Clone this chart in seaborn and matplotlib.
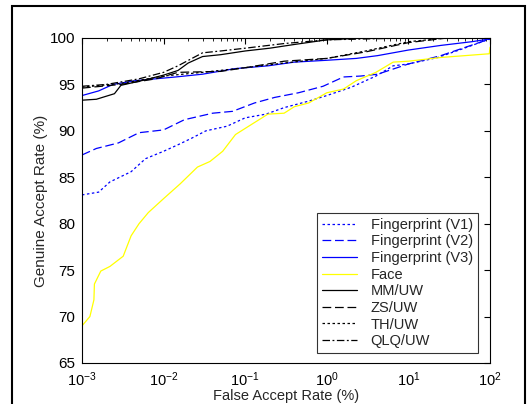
import numpy as np
import pandas as pd
import matplotlib
matplotlib.use("Agg")
import matplotlib.pyplot as plt
import seaborn as sns
from matplotlib.patches import Rectangle
from matplotlib.ticker import LogLocator, NullFormatter

# Data (FAR in %, GAR in %) ==========================================================
far_face = [1e-3, 1.25e-3, 1.4e-3, 1.42e-3, 1.7e-3, 2.2e-3, 3.2e-3, 4e-3, 5e-3, 6.5e-3,
            1e-2, 1.6e-2, 2.6e-2, 3.7e-2, 5.3e-2, 7.6e-2, 1.2e-1, 1.9e-1, 3e-1, 4e-1,
            6e-1, 1.0, 1.6, 2.3, 4.0, 6.5, 10.0, 25.0, 98.0, 100.0]
gar_face = [69.0, 70.0, 71.8, 73.5, 74.9, 75.4, 76.5, 78.7, 80.0, 81.2,
            82.7, 84.3, 86.1, 86.7, 87.8, 89.6, 90.7, 91.8, 91.9, 92.6,
            93.0, 94.1, 94.5, 95.4, 96.3, 97.4, 97.5, 97.9, 98.3, 99.0]

far_v1 = [1e-3, 1.6e-3, 2.2e-3, 4e-3, 6e-3, 1e-2, 1.5e-2, 2.2e-2, 3.3e-2, 6e-2,
          1e-1, 1.8e-1, 3e-1, 6e-1, 1.0, 2.0, 4.0, 6.5, 10.0, 23.0, 45.0, 100.0]
gar_v1 = [83.1, 83.4, 84.5, 85.6, 87.0, 87.8, 88.5, 89.2, 90.0, 90.5,
          91.4, 91.8, 92.5, 93.2, 93.8, 94.7, 95.9, 97.0, 97.2, 97.9, 98.8, 99.9]

far_v2 = [1e-3, 1.5e-3, 2.8e-3, 5e-3, 1e-2, 1.8e-2, 4e-2, 7e-2, 1.3e-1, 2.3e-1,
          4.5e-1, 0.9, 1.6, 2.6, 4.2, 10.0, 25.0, 100.0]
gar_v2 = [87.4, 88.1, 88.7, 89.8, 90.1, 91.2, 91.9, 92.1, 93.0, 93.6,
          94.1, 94.8, 95.8, 95.9, 96.1, 97.2, 98.1, 99.9]

far_v3 = [1e-3, 1.6e-3, 2.4e-3, 4.5e-3, 1.4e-2, 3e-2, 7.5e-2, 1.9e-1, 4e-1,
          1.0, 2.3, 4.2, 10.0, 25.0, 60.0, 100.0]
gar_v3 = [93.8, 94.3, 95.0, 95.4, 95.8, 96.1, 96.7, 97.0, 97.4,
          97.6, 97.8, 98.1, 98.7, 99.2, 99.6, 99.9]

far_mm = [1e-3, 1.5e-3, 2.5e-3, 3e-3, 6e-3, 1e-2, 1.5e-2, 2e-2, 3e-2, 5e-2,
          1e-1, 2e-1, 4e-1, 1.0, 3.0, 100.0]
gar_mm = [93.3, 93.4, 94.0, 94.9, 95.5, 96.0, 96.5, 97.3, 98.0, 98.2,
          98.6, 98.9, 99.3, 99.8, 100.0, 100.0]

far_zs = [1e-3, 3e-3, 8e-3, 1.5e-2, 5e-2, 1e-1, 3e-1, 1.0, 3.0, 10.0, 30.0, 100.0]
gar_zs = [94.6, 95.0, 95.6, 96.3, 96.4, 96.8, 97.5, 97.8, 98.5, 99.5, 100.0, 100.0]

far_th = [1e-3, 3e-3, 1e-2, 3e-2, 1e-1, 3e-1, 1.0, 3.0, 10.0, 30.0, 100.0]
gar_th = [94.7, 95.1, 95.9, 96.3, 96.8, 97.3, 97.8, 98.6, 99.6, 100.0, 100.0]

far_qlq = [1e-3, 2e-3, 5e-3, 1e-2, 1.5e-2, 3e-2, 5e-2, 1e-1, 3e-1, 1.0, 10.0, 100.0]
gar_qlq = [94.8, 95.0, 95.6, 96.3, 97.0, 98.4, 98.6, 98.9, 99.4, 99.8, 100.0, 100.0]

series = [
    ("Fingerprint (V1)", far_v1, gar_v1, "#0000ff", (0, (2, 2))),
    ("Fingerprint (V2)", far_v2, gar_v2, "#0000ff", (0, (7, 3))),
    ("Fingerprint (V3)", far_v3, gar_v3, "#0000ff", "-"),
    ("Face", far_face, gar_face, "#ffff00", "-"),
    ("MM/UW", far_mm, gar_mm, "black", "-"),
    ("ZS/UW", far_zs, gar_zs, "black", (0, (7, 3))),
    ("TH/UW", far_th, gar_th, "black", (0, (2, 2))),
    ("QLQ/UW", far_qlq, gar_qlq, "black", (0, (6, 2, 1.5, 2))),
]

# Plot =================================================================================
sns.set_style("white")
plt.rcParams['font.family'] = ['Liberation Sans', 'DejaVu Sans']

fig = plt.figure(figsize=(5.31, 4.04), dpi=100)
ax = fig.add_axes([0.1544, 0.1015, 0.7684, 0.8045])

for name, x, y, c, ls in series:
    df = pd.DataFrame({"far": x, "gar": y})
    sns.lineplot(data=df, x="far", y="gar", ax=ax, color=c, linestyle=ls,
                 linewidth=0.9, label=name, sort=False)

ax.set_xscale("log")
ax.set_xlim(1e-3, 1e2)
ax.set_ylim(65, 100)
ax.set_yticks(np.arange(65, 101, 5))
ax.xaxis.set_minor_locator(LogLocator(base=10, subs=np.arange(2, 10), numticks=20))
ax.xaxis.set_minor_formatter(NullFormatter())
ax.tick_params(which="both", direction="in", top=True, right=True,
               labelsize=11, colors="black")
ax.tick_params(axis="x", pad=5.5, labelsize=10.5)
ax.tick_params(axis="y", pad=5)
ax.tick_params(which="major", length=4, width=0.8)
ax.tick_params(which="minor", length=2, width=0.6)
for s in ax.spines.values():
    s.set_color("black")
    s.set_linewidth(0.8)

ax.set_xlabel("False Accept Rate (%)", fontsize=10.5, labelpad=0)
ax.set_ylabel("Genuine Accept Rate (%)", fontsize=11, labelpad=1)

leg = ax.legend(loc="lower right", fontsize=10.5, frameon=True, fancybox=False,
                handlelength=2.4, handletextpad=0.9, labelspacing=0.18,
                borderpad=0.35, borderaxespad=0, bbox_to_anchor=(0.97, 0.03))
leg.get_frame().set_edgecolor("black")
leg.get_frame().set_linewidth(0.8)

# outer frame around the figure
fig.patches.append(Rectangle((12 / 531, -0.02), 513 / 531, 1 - 6 / 404 + 0.02,
                             transform=fig.transFigure, fill=False,
                             edgecolor="black", linewidth=1.5))

fig.savefig("out.png", dpi=100)
